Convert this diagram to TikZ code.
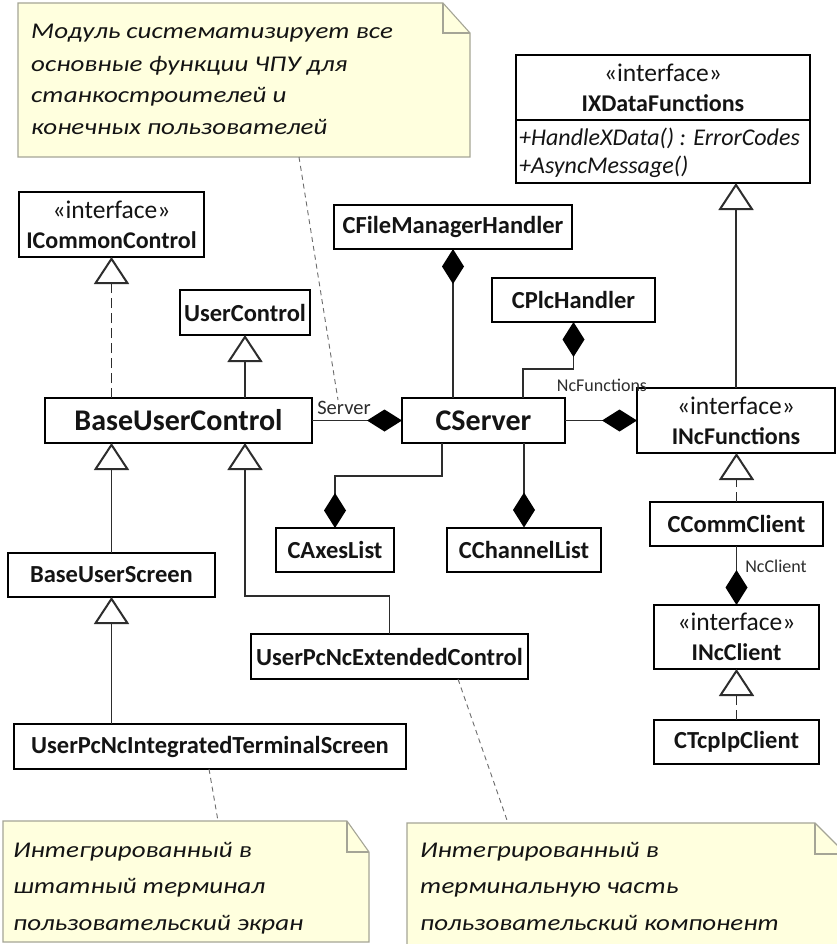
\documentclass[tikz,border=0pt]{standalone}
\usepackage{fontspec}
\setmainfont{Carlito}
\newfontfamily\notefam{Carlito}[FakeStretch=1.2]
\usetikzlibrary{arrows.meta,calc}

\definecolor{notefill}{RGB}{255,255,222}
\definecolor{noteline}{RGB}{165,165,150}
\definecolor{wire}{RGB}{45,45,45}
\definecolor{ink}{RGB}{20,20,20}

\newcommand{\ifname}[1]{{\bfseries\fontsize{24}{30}\selectfont #1}}

\tikzset{
  cls/.style={draw=black, line width=2pt, fill=white, inner sep=0pt, outer sep=0pt,
    align=center, text=ink, font=\bfseries\fontsize{24.5}{29}\selectfont},
  bigcls/.style={cls, font=\bfseries\fontsize{30}{36}\selectfont},
  iface/.style={cls, font=\fontsize{25.5}{30}\selectfont},
  opsbox/.style={cls},
  optext/.style={inner sep=0pt, anchor=west, text=ink, font=\itshape\fontsize{24}{29}\selectfont},
  rolelabel/.style={inner sep=0pt, text=wire, font=\fontsize{18}{20}\selectfont},
  notetext/.style={inner sep=0pt, anchor=base west, text=ink, font=\notefam\itshape\fontsize{22.5}{26}\selectfont},
  notebody/.style={draw=noteline, fill=notefill, line width=1.1pt, line join=miter},
  notefold/.style={draw=noteline, line width=1.1pt},
  notelink/.style={draw=wire!70, line width=0.9pt, dash pattern=on 5pt off 4pt},
  gen/.style={draw=wire, line width=1.5pt,
    -{Triangle[open, fill=white, length=27pt, width=35pt, line width=2pt]}},
  real/.style={gen, dash pattern=on 10pt off 5pt},
  comp/.style={draw=wire, line width=1.5pt,
    -{Diamond[length=35pt, width=22pt, fill=black, color=black]}},
}

\begin{document}
\begin{tikzpicture}[x=1pt, y=-1pt]
  \useasboundingbox (0,0) rectangle (836,944);
  \fill[white] (0,0) rectangle (836,944);

  % ---------- classes ----------
  \node[iface, minimum width=185pt, minimum height=65pt] (icc) at (111.5,224.5)
    {«interface»\\\ifname{ICommonControl}};
  \node[cls, minimum width=130pt, minimum height=45pt] (uc) at (245,312.5) {UserControl};
  \node[bigcls, minimum width=267pt, minimum height=45pt] (buc) at (178.5,420.5) {BaseUserControl};
  \node[bigcls, minimum width=163pt, minimum height=45pt] (cs) at (483.5,420.5) {CServer};
  \node[cls, minimum width=238pt, minimum height=44pt] (cfm) at (453,227) {CFileManagerHandler};
  \node[cls, minimum width=163pt, minimum height=44pt] (cplc) at (573.5,300) {CPlcHandler};

  \node[iface, minimum width=294pt, minimum height=65pt] (ixd) at (663,87.5)
    {«interface»\\\ifname{IXDataFunctions}};
  \node[opsbox, minimum width=294pt, minimum height=63pt] (ixdops) at (663,151.5) {};
  \node[optext] (op1) at (519,138) {+HandleXData() : ErrorCodes};
  \node[optext] (op2) at (519,167) {+AsyncMessage()};

  \node[iface, minimum width=198pt, minimum height=65pt] (inf) at (736,420.5)
    {«interface»\\\ifname{INcFunctions}};
  \node[cls, minimum width=173pt, minimum height=44pt] (ccc) at (736.5,524) {CCommClient};
  \node[iface, minimum width=165pt, minimum height=64pt] (inc) at (736.5,637)
    {«interface»\\\ifname{INcClient}};
  \node[cls, minimum width=165pt, minimum height=44pt] (ctcp) at (736.5,742) {CTcpIpClient};

  \node[cls, minimum width=118pt, minimum height=44pt] (cax) at (335,550) {CAxesList};
  \node[cls, minimum width=154pt, minimum height=44pt] (cch) at (524,549.5) {CChannelList};

  \node[cls, minimum width=207pt, minimum height=44pt] (bus) at (111.5,575) {BaseUserScreen};
  \node[cls, minimum width=277pt, minimum height=45pt] (upec) at (389.5,656.5) {UserPcNcExtendedControl};
  \node[cls, minimum width=392pt, minimum height=45pt] (upits) at (210,746.5) {UserPcNcIntegratedTerminalScreen};

  % ---------- generalizations / realizations ----------
  \draw[real] (icc.south |- buc.north) -- (icc.south);
  \draw[gen] (uc.south |- buc.north) -- (uc.south);
  \draw[gen] (bus.north) -- (bus.north |- buc.south);
  \draw[gen] (upec.north) -- ++(0,-38) -| (uc.south |- buc.south);
  \draw[gen] (bus.south |- upits.north) -- (bus.south);
  \draw[gen] (inf.north) -- (inf.north |- ixdops.south);
  \draw[real] (ccc.north) -- (ccc.north |- inf.south);
  \draw[real] (ctcp.north) -- (ctcp.north |- inc.south);

  % ---------- compositions ----------
  \draw[comp] (buc.east) -- (cs.west);
  \draw[comp] (cfm.south |- cs.north) -- (cfm.south);
  \draw[comp] ($(cs.north west)+(121,0)$) |- ($(cplc.south)+(0,47)$) -- (cplc.south);
  \draw[comp] (cs.east) -- (inf.west);
  \draw[comp] ($(cs.south west)+(40,0)$) |- ($(cax.north)+(0,-52)$) -- (cax.north);
  \draw[comp] (cch.north |- cs.south) -- (cch.north);
  \draw[comp] (ccc.south) -- (inc.north);

  % ---------- role names ----------
  \node[rolelabel, font=\fontsize{20.5}{22}\selectfont] (lserver) at (344,408) {Server};
  \node[rolelabel] (lncf) at (602,385) {NcFunctions};
  \node[rolelabel] (lncc) at (776,566) {NcClient};

  % ---------- notes ----------
  \draw[notebody] (18,3) -- (443,3) -- (470,33) -- (470,157) -- (18,157) -- cycle;
  \draw[notefold] (443,3) -- (443,33) -- (470,33);
  \node[notetext] (n1a) at (31,39) {Модуль систематизирует все};
  \node[notetext] (n1b) at (31,72) {основные функции ЧПУ для};
  \node[notetext] (n1c) at (31,103) {станкостроителей и};
  \node[notetext] (n1d) at (31,135) {конечных пользователей};
  \coordinate (n1tail) at (299,157);
  \coordinate (n1head) at (338,400);
  \draw[notelink] (n1tail) -- (n1head);

  \draw[notebody] (3,821) -- (347,821) -- (369,852) -- (369,942) -- (3,942) -- cycle;
  \draw[notefold] (347,821) -- (347,852) -- (369,852);
  \node[notetext] (n2a) at (13,857) {Интегрированный в};
  \node[notetext] (n2b) at (13,893) {штатный терминал};
  \node[notetext] (n2c) at (13,930) {пользовательский экран};
  \coordinate (n2top) at (218,821);
  \draw[notelink] (upits.south -| 209,0) -- (n2top);

  \draw[notebody] (407,823) -- (815,823) -- (846,854) -- (846,950) -- (407,950) -- cycle;
  \draw[notefold] (815,823) -- (815,854) -- (846,854);
  \node[notetext] (n3a) at (420,857) {Интегрированный в};
  \node[notetext] (n3b) at (420,893) {терминальную часть};
  \node[notetext] (n3c) at (420,930) {пользовательский компонент};
  \coordinate (n3top) at (508,823);
  \draw[notelink] (upec.south -| 458,0) -- (n3top);
\end{tikzpicture}
\end{document}
